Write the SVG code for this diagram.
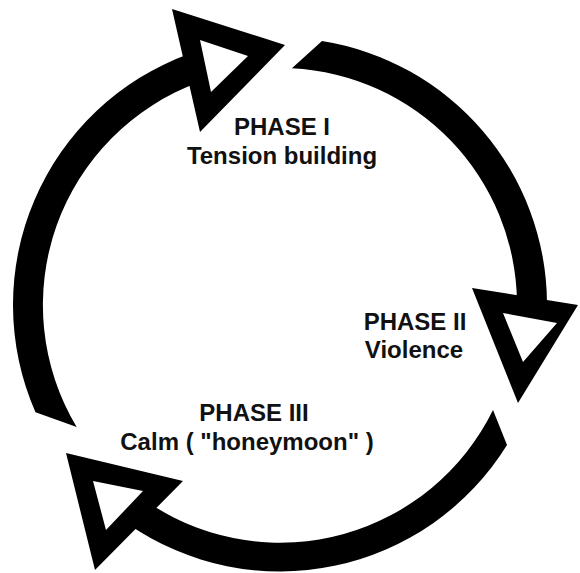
<svg xmlns="http://www.w3.org/2000/svg" width="580" height="573" viewBox="0 0 580 573">
<style>
.arc{fill:#000;}
.head{fill:#000;fill-rule:evenodd;}
.lbl{font-family:"Liberation Sans",Arial,Helvetica,sans-serif;font-weight:bold;font-size:24px;fill:#111;text-anchor:middle;}
</style>
<rect width="580" height="573" fill="#fff"/>
<g id="connectors">
<path class="arc" d="M 322 41 A 267 267 0 0 1 547 303 L 517 302 A 237 237 0 0 0 291.9 68.3 Z"/>
<path class="arc" d="M 507 445 A 267 267 0 0 1 128 524 L 152 505 A 237 237 0 0 0 493 410 Z"/>
<path class="arc" d="M 35.5 412.3 A 267 267 0 0 1 188.7 54.1 L 198.9 82.3 A 237 237 0 0 0 76.7 427 Z"/>
<path class="head" d="M 172 9 L 285 45 L 200 132 Z M 200 40 L 248 56 L 211 92 Z"/>
<path class="head" d="M 472 288 L 578 305 L 518 403 Z M 503 313 L 557 323 L 523 362 Z"/>
<path class="head" d="M 66 453 L 183 481 L 95 570 Z M 93 481 L 143 491 L 106 530 Z"/>
</g>
<g id="phase1">
<text class="lbl" x="282" y="135">PHASE I</text>
<text class="lbl" x="282" y="164">Tension building</text>
</g>
<g id="phase2">
<text class="lbl" x="415" y="330">PHASE II</text>
<text class="lbl" x="414" y="358">Violence</text>
</g>
<g id="phase3">
<text class="lbl" x="254" y="421">PHASE III</text>
<text class="lbl" x="247" y="450">Calm ( "honeymoon" )</text>
</g>
</svg>
